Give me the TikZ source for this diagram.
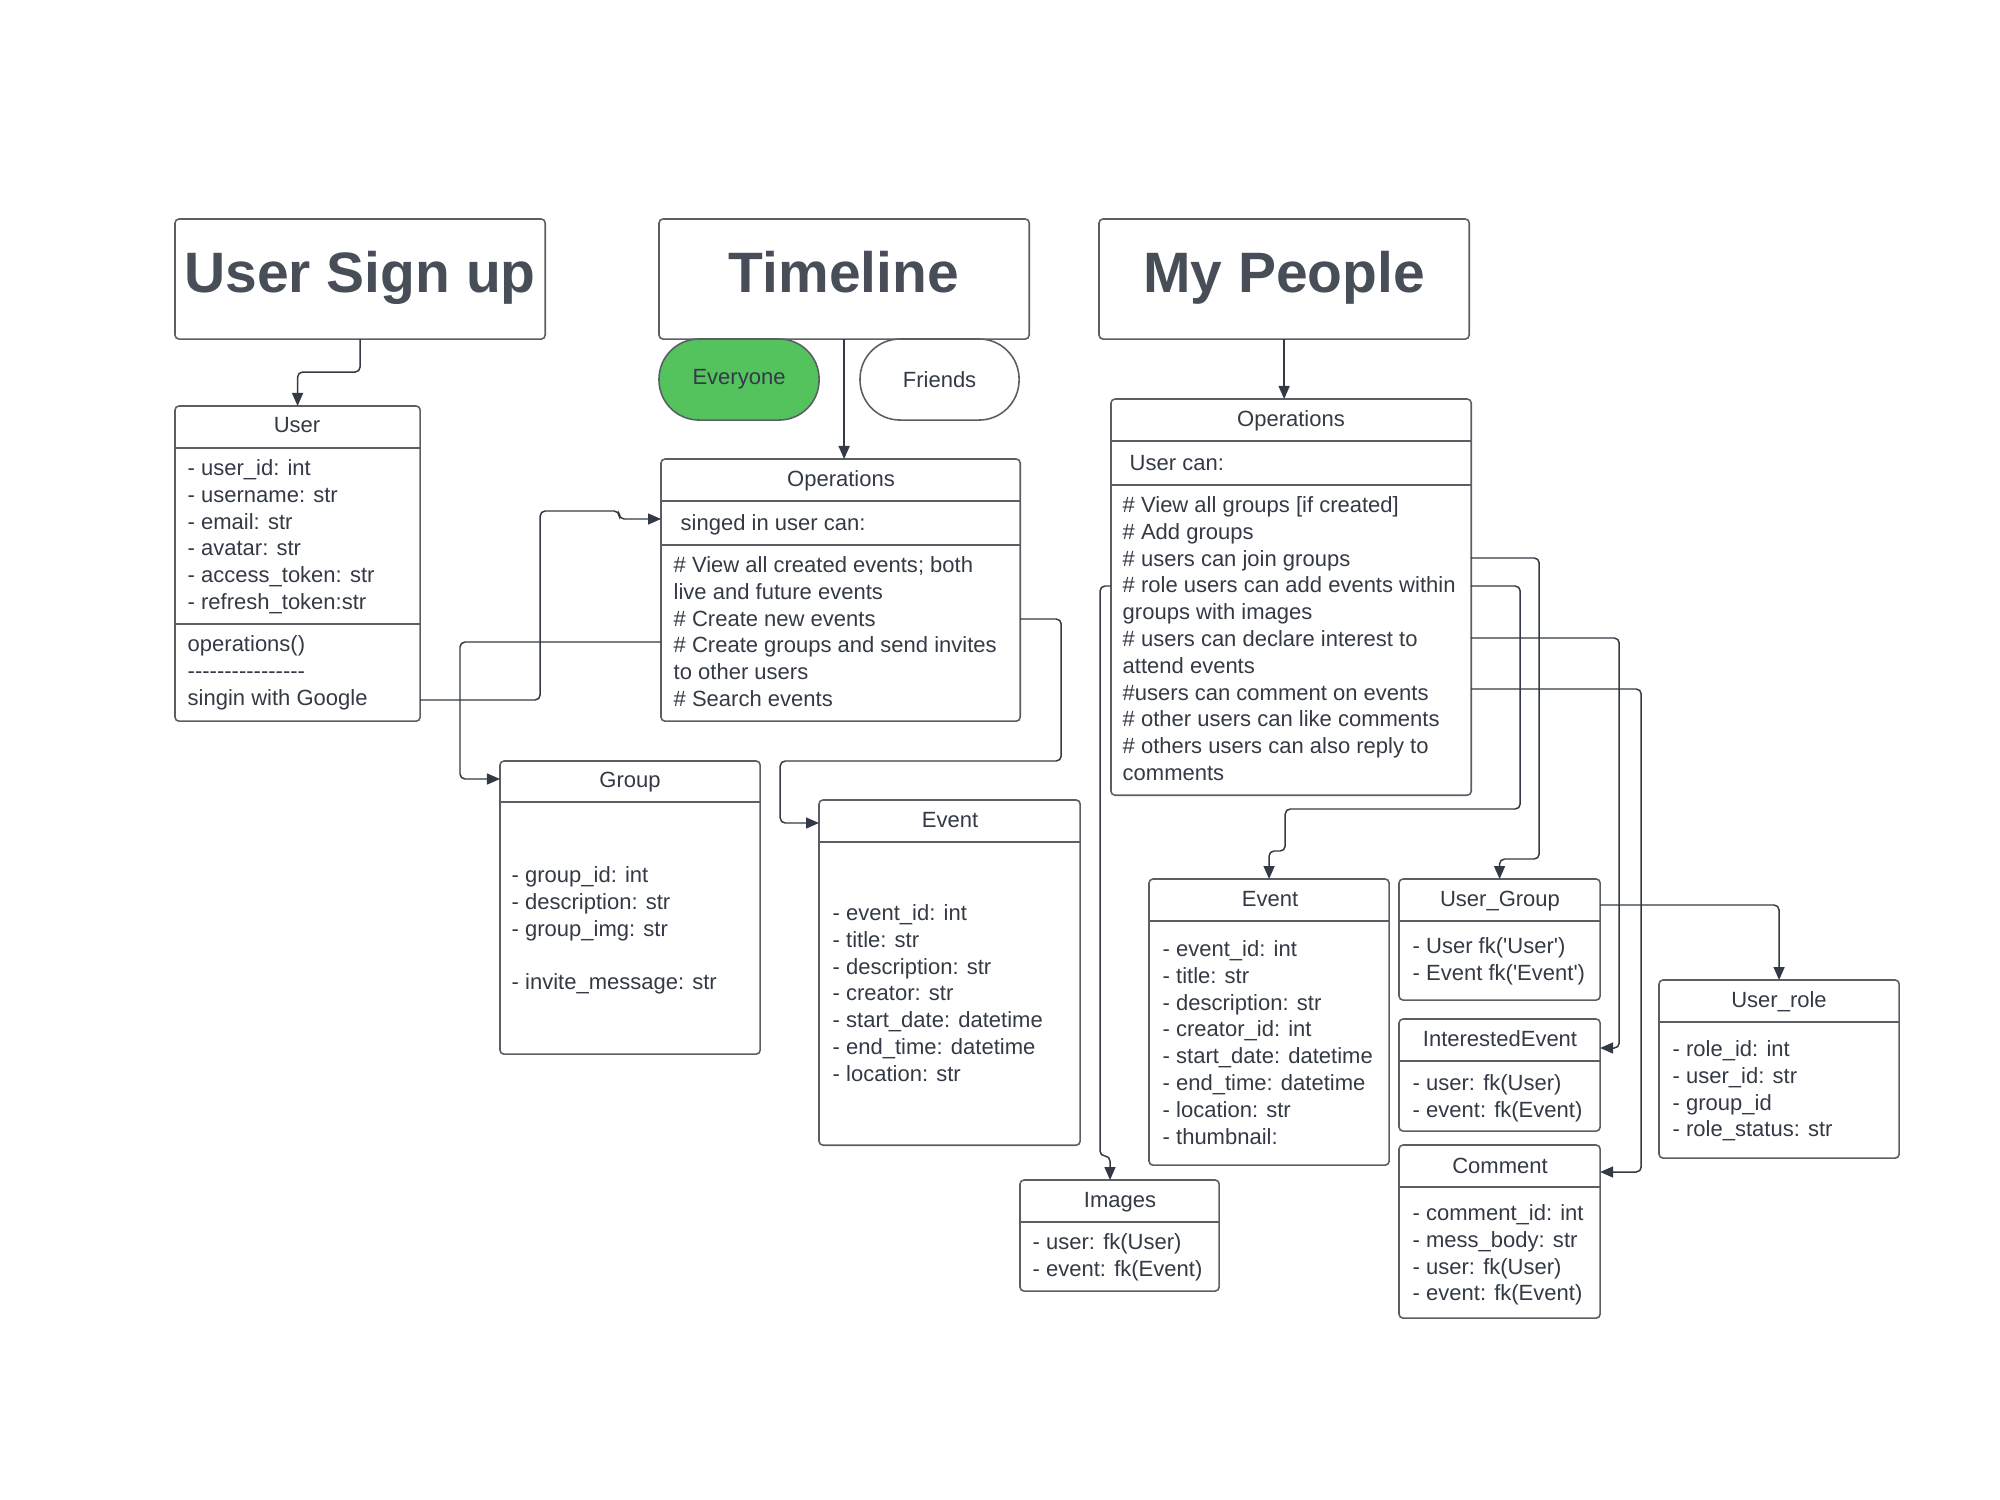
\documentclass[tikz,border=0pt]{standalone}
\usepackage{fontspec}
\setmainfont{Liberation Sans}
\usetikzlibrary{calc,arrows.meta}
\definecolor{ink}{HTML}{333A45}
\definecolor{edge}{HTML}{5A5F66}
\definecolor{lucidgreen}{HTML}{54C35E}
\tikzset{
  box/.style={draw=edge, line width=0.45pt, rounded corners=0.04cm, inner sep=0pt, outer sep=0pt, anchor=north west},
  pill/.style={box, rounded corners=0.4cm, minimum width=1.6cm, minimum height=0.81cm, text=ink, font=\fontsize{6.26}{7.62}\selectfont},
  title/.style={text=ink!90!white, inner sep=0pt, anchor=base, font=\fontsize{16.2}{19}\selectfont\bfseries},
  head/.style={text=ink, inner sep=0pt, anchor=base, font=\fontsize{6.26}{7.62}\selectfont},
  lbl/.style={head, anchor=base west},
  txt/.style={text=ink, inner sep=0pt, anchor=north west, align=left, font=\fontsize{6.26}{7.62}\selectfont},
  conn/.style={draw=ink, line width=0.42pt, rounded corners=0.05cm, -{Triangle[length=0.13cm,width=0.11cm]}}
}
\newcommand\divline[2]{\draw[edge, line width=0.45pt] ($(#1.north west)+(0,#2)$) -- ($(#1.north east)+(0,#2)$);}
\newcommand\hyfour{\mbox{-}\mbox{-}\mbox{-}\mbox{-}}
\newcommand\sq{\textquotesingle}
\begin{document}
\begin{tikzpicture}[x=0.01cm, y=-0.01cm]
\useasboundingbox (0,0) rectangle (2000,1500);

\node[box, minimum width=3.7cm, minimum height=1.2cm] (signup) at (175,219) {};
\node[title] (signupT) at (360,292) {User Sign up};
\node[box, minimum width=3.7cm, minimum height=1.2cm] (timeline) at (659,219) {};
\node[title] (timelineT) at (844,292) {Timeline};
\node[box, minimum width=3.7cm, minimum height=1.2cm] (people) at (1099,219) {};
\node[title] (peopleT) at (1284,292) {My People};

\node[pill, fill=lucidgreen] (everyone) at (659,339) {Everyone};
\node[pill, fill=white, minimum width=1.59cm] (friends) at (860,339) {Friends};

\node[box, minimum width=2.45cm, minimum height=3.15cm] (user) at (175,406) {};
\divline{user}{42}
\divline{user}{218}
\node[head] (userH) at (297,432) {User};
\node[txt] (userA) at (187,456) {\strut- user\_id: int\\- username: str\\- email: str\\- avatar: str\\- access\_token: str\\- refresh\_token:str};
\node[txt] (userO) at (187,632) {\strut operations()\\\hyfour\hyfour\hyfour\hyfour\\singin with Google};

\node[box, minimum width=3.59cm, minimum height=2.62cm] (tlops) at (661,459) {};
\divline{tlops}{42}
\divline{tlops}{86}
\node[head] (tlopsH) at (841,486) {Operations};
\node[lbl] (tlopsS) at (680,530) {singed in user can:};
\node[txt] (tlopsB) at (673,553) {\strut\# View all created events; both\\live and future events\\\# Create new events\\\# Create groups and send invites\\to other users\\\# Search events};

\node[box, minimum width=2.6cm, minimum height=2.93cm] (group) at (500,761) {};
\divline{group}{41}
\node[head] (groupH) at (630,787) {Group};
\node[txt] (groupA) at (511,863) {\strut- group\_id: int\\- description: str\\- group\_img: str\\[7.62pt]- invite\_message: str};

\node[box, minimum width=2.61cm, minimum height=3.45cm] (ev1) at (819,800) {};
\divline{ev1}{42}
\node[head] (ev1H) at (950,827) {Event};
\node[txt] (ev1A) at (832,901) {\strut- event\_id: int\\- title: str\\- description: str\\- creator: str\\- start\_date: datetime\\- end\_time: datetime\\- location: str};

\node[box, minimum width=3.6cm, minimum height=3.96cm] (mpops) at (1111,399) {};
\divline{mpops}{42}
\divline{mpops}{86}
\node[head] (mpopsH) at (1291,426) {Operations};
\node[lbl] (mpopsS) at (1129,470) {User can:};
\node[txt] (mpopsB) at (1122,493) {\strut\# View all groups [if created]\\\# Add groups\\\# users can join groups\\\# role users can add events within\\groups with images\\\# users can declare interest to\\attend events\\\#users can comment on events\\\# other users can like comments\\\# others users can also reply to\\comments};

\node[box, minimum width=2.4cm, minimum height=2.86cm] (ev2) at (1149,879) {};
\divline{ev2}{42}
\node[head] (ev2H) at (1270,906) {Event};
\node[txt] (ev2A) at (1162,937) {\strut- event\_id: int\\- title: str\\- description: str\\- creator\_id: int\\- start\_date: datetime\\- end\_time: datetime\\- location: str\\- thumbnail:};

\node[box, minimum width=2.01cm, minimum height=1.21cm] (ug) at (1399,879) {};
\divline{ug}{42}
\node[head] (ugH) at (1500,906) {User\_Group};
\node[txt] (ugA) at (1412,934) {\strut- User fk(\sq User\sq)\\- Event fk(\sq Event\sq)};

\node[box, minimum width=2.01cm, minimum height=1.12cm] (ie) at (1399,1019) {};
\divline{ie}{42}
\node[head] (ieH) at (1500,1046) {InterestedEvent};
\node[txt] (ieA) at (1412,1071) {\strut- user: fk(User)\\- event: fk(Event)};

\node[box, minimum width=2.01cm, minimum height=1.73cm] (cmt) at (1399,1145) {};
\divline{cmt}{42}
\node[head] (cmtH) at (1500,1173) {Comment};
\node[txt] (cmtA) at (1412,1201) {\strut- comment\_id: int\\- mess\_body: str\\- user: fk(User)\\- event: fk(Event)};

\node[box, minimum width=2.4cm, minimum height=1.78cm] (urole) at (1659,980) {};
\divline{urole}{42}
\node[head] (uroleH) at (1779,1007) {User\_role};
\node[txt] (uroleA) at (1672,1037) {\strut- role\_id: int\\- user\_id: str\\- group\_id\\- role\_status: str};

\node[box, minimum width=1.99cm, minimum height=1.11cm] (imgs) at (1020,1180) {};
\divline{imgs}{42}
\node[head] (imgsH) at (1120,1207) {Images};
\node[txt] (imgsA) at (1032,1230) {\strut- user: fk(User)\\- event: fk(Event)};

\draw[conn] (signup.south) -- ++(0,33) -| (user.north);
\draw[conn] (timeline.south) -- (timeline.south |- tlops.north);
\draw[conn] (people.south) -- (people.south |- mpops.north);
\draw[conn] ($(user.north east)+(0,294)$) -- ++(120,0) -- ++(0,-189) -- ++(79,0) -- ++(0,8) -- ($(tlops.north west)+(0,60)$);
\draw[conn] ($(tlops.north west)+(0,183)$) -- ++(-201,0) |- ($(group.north west)+(0,18)$);
\draw[conn] ($(tlops.north east)+(0,160)$) -- ++(41,0) -- ++(0,142) -- ++(-281,0) |- ($(ev1.north west)+(0,23)$);
\draw[conn] ($(mpops.north west)+(0,187)$) -- ++(-11,0) -- ++(0,570) -| ($(imgs.north west)+(90,0)$);
\draw[conn] ($(mpops.north east)+(0,187)$) -- ++(49,0) -- ++(0,223) -- ++(-235,0) -- ++(0,42) -| (ev2.north);
\draw[conn] ($(mpops.north east)+(0,159)$) -- ++(68,0) -- ++(0,301) -| (ug.north);
\draw[conn] ($(mpops.north east)+(0,239)$) -- ++(148,0) |- ($(ie.north east)+(0,29)$);
\draw[conn] ($(mpops.north east)+(0,290)$) -- ++(170,0) |- ($(cmt.north east)+(0,27)$);
\draw[conn] ($(ug.north east)+(0,26)$) -| (urole.north);
\end{tikzpicture}
\end{document}
